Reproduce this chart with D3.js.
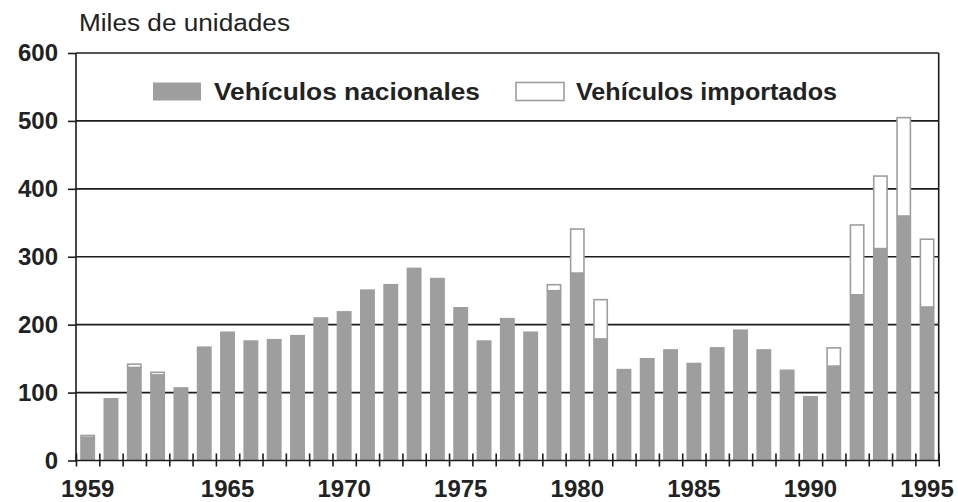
<!DOCTYPE html>
<html lang="es">
<head>
    <meta charset="UTF-8"/>
    <title>Vehículos nacionales e importados</title>
    <script src="https://d3js.org/d3.v7.min.js"></script>
    <style>
        body { margin: 0; background: #fff; }
        text { font-family: "Liberation Sans", Arial, Helvetica, sans-serif; fill: #222; }
    </style>
</head>
<body>
    <div id="chart"></div>

    <script>
        // data (thousands of units)
        var years = d3.range(1959, 1996);
        var nacionales = [34, 92, 137, 126, 108, 168, 190, 177, 179, 185,
                          211, 220, 252, 260, 284, 269, 226, 177, 210, 190,
                          250, 276, 179, 135, 151, 164, 144, 167, 193, 164,
                          134, 95, 139, 244, 312, 360, 226];
        var importados = [4, 0, 6, 5, 0, 0, 0, 0, 0, 0,
                          0, 0, 0, 0, 0, 0, 0, 0, 0, 0,
                          10, 66, 59, 0, 0, 0, 0, 0, 0, 0,
                          0, 0, 28, 104, 108, 146, 101];
        var yTicks = [0, 100, 200, 300, 400, 500, 600];
        var xLabels = [1959, 1965, 1970, 1975, 1980, 1985, 1990, 1995];

        var w = 958;
        var h = 502;
        // plot box (note: "top" is a reserved global in browsers)
        var pLeft = 76, pRight = 938.7, pTop = 53, pBottom = 460.5;
        var grey = "#9e9e9e";

        var dataset = years.map(function(y, i) {
            return { year: y, nac: nacionales[i], imp: importados[i] };
        });

        var xScale = d3.scaleBand()
                        .domain(years)
                        .range([pLeft, pRight])
                        .paddingInner(0.36)
                        .paddingOuter(0.18);

        // band edges for the small tick marks between the bars
        var xEdges = d3.scaleLinear()
                        .domain([1959, 1996])
                        .range([pLeft, pRight]);

        var yScale = d3.scaleLinear()
                        .domain([0, 600])
                        .range([pBottom, pTop]);

        var svg = d3.select("#chart")
                    .append("svg")
                    .attr("width", w)
                    .attr("height", h);

        // gridlines
        svg.selectAll("line.grid")
            .data(yTicks.slice(1))
            .enter()
            .append("line")
            .attr("class", "grid")
            .attr("x1", pLeft)
            .attr("x2", pRight)
            .attr("y1", function(d) { return yScale(d); })
            .attr("y2", function(d) { return yScale(d); })
            .attr("stroke", "#1c1c1c")
            .attr("stroke-width", 1.6);

        // national vehicles
        svg.selectAll("rect.nac")
            .data(dataset)
            .enter()
            .append("rect")
            .attr("class", "nac")
            .attr("x", function(d) { return xScale(d.year); })
            .attr("width", xScale.bandwidth())
            .attr("y", function(d) { return yScale(d.nac); })
            .attr("height", function(d) { return pBottom - yScale(d.nac); })
            .attr("fill", grey);

        // imported vehicles stacked on top
        svg.selectAll("rect.imp")
            .data(dataset.filter(function(d) { return d.imp > 0; }))
            .enter()
            .append("rect")
            .attr("class", "imp")
            .attr("x", function(d) { return xScale(d.year) + 0.8; })
            .attr("width", xScale.bandwidth() - 1.6)
            .attr("y", function(d) { return yScale(d.nac + d.imp) + 0.8; })
            .attr("height", function(d) { return Math.max(yScale(d.nac) - yScale(d.nac + d.imp) - 0.8, 0.5); })
            .attr("fill", "#fff")
            .attr("stroke", grey)
            .attr("stroke-width", 1.6);

        // frame: left axis, bottom axis, right side
        svg.append("path")
            .attr("d", "M" + pLeft + "," + pTop + "V" + pBottom + "H" + pRight + "V" + pTop)
            .attr("fill", "none")
            .attr("stroke", "#1c1c1c")
            .attr("stroke-width", 1.6);

        // y axis
        var yAxis = d3.axisLeft(yScale)
                        .tickValues(yTicks)
                        .tickSize(8)
                        .tickPadding(10);

        var gy = svg.append("g")
                    .attr("transform", "translate(" + pLeft + ",0)")
                    .call(yAxis);
        gy.select(".domain").remove();
        gy.selectAll("line").attr("stroke", "#1c1c1c").attr("stroke-width", 1.6);
        gy.selectAll("text")
            .attr("fill", "#222")
            .style("font-size", "24px")
            .style("font-weight", "bold")
            .style("font-family", "'Liberation Sans', Arial, sans-serif");

        // x tick marks at band edges
        var xTicks = d3.axisBottom(xEdges)
                        .tickValues(d3.range(1959, 1997))
                        .tickSize(13)
                        .tickFormat("");
        var gxt = svg.append("g")
                    .attr("transform", "translate(0," + (pBottom - 7) + ")")
                    .call(xTicks);
        gxt.select(".domain").remove();
        gxt.selectAll("line").attr("stroke", "#1c1c1c").attr("stroke-width", 1.6);

        // x labels
        var xAxis = d3.axisBottom(xScale)
                        .tickValues(xLabels)
                        .tickSize(0)
                        .tickPadding(19);
        var gx = svg.append("g")
                    .attr("transform", "translate(0," + pBottom + ")")
                    .call(xAxis);
        gx.select(".domain").remove();
        gx.selectAll("text")
            .attr("fill", "#222")
            .style("font-size", "24px")
            .style("font-weight", "bold")
            .style("font-family", "'Liberation Sans', Arial, sans-serif");

        // unit label
        svg.append("text")
            .attr("x", 79)
            .attr("y", 31)
            .attr("textLength", 211)
            .attr("lengthAdjust", "spacingAndGlyphs")
            .style("font-size", "23px")
            .text("Miles de unidades");

        // legend
        var legend = [
            { label: "Vehículos nacionales", fill: grey, stroke: "none", x: 153, tx: 214, tw: 266 },
            { label: "Vehículos importados", fill: "#fff", stroke: grey, x: 516, tx: 576, tw: 261 }
        ];

        var lg = svg.selectAll("g.legend")
                    .data(legend)
                    .enter()
                    .append("g")
                    .attr("class", "legend");

        lg.append("rect")
            .attr("x", function(d) { return d.x; })
            .attr("y", 82.5)
            .attr("width", 48)
            .attr("height", 18)
            .attr("fill", function(d) { return d.fill; })
            .attr("stroke", function(d) { return d.stroke; })
            .attr("stroke-width", 1.6);

        lg.append("text")
            .attr("x", function(d) { return d.tx; })
            .attr("y", 99.5)
            .attr("textLength", function(d) { return d.tw; })
            .attr("lengthAdjust", "spacingAndGlyphs")
            .style("font-size", "23px")
            .style("font-weight", "bold")
            .text(function(d) { return d.label; });
    </script>
</body>
</html>
